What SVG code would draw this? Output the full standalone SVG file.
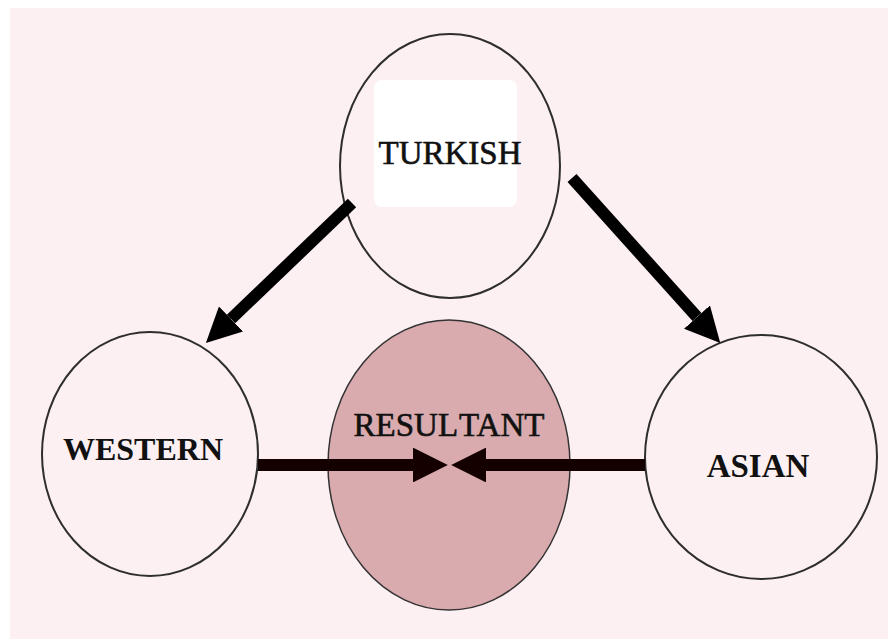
<svg xmlns="http://www.w3.org/2000/svg" width="888" height="639" viewBox="0 0 888 639">
<style>
.node{fill:none;stroke:#2e2e2e;stroke-width:2}
.lbl{font-family:"Liberation Serif","Times New Roman",serif;fill:#111;text-anchor:middle}
.n{stroke:#111;stroke-width:0.6}
.b{font-weight:bold}
.conn{stroke:#000;stroke-width:12;fill:none}
.hconn{stroke:#150000;stroke-width:12;fill:none}
</style>
<defs>
<marker id="ah" viewBox="0 0 10 10" refX="0" refY="5" markerWidth="2.9" markerHeight="2.9" orient="auto" markerUnits="strokeWidth">
<path d="M0,0 L10,5 L0,10 z" fill="#000"/>
</marker>
<marker id="ahh" viewBox="0 0 10 10" refX="0" refY="5" markerWidth="2.9" markerHeight="2.9" orient="auto" markerUnits="strokeWidth">
<path d="M0,0 L10,5 L0,10 z" fill="#150000"/>
</marker>
</defs>
<rect x="0" y="0" width="888" height="639" fill="#ffffff"/>
<rect x="10" y="8" width="878" height="631" fill="#fdf0f3"/>
<g id="turkish">
<ellipse cx="450" cy="166" rx="110" ry="132" fill="#fdf0f3" class="node"/>
<rect x="374" y="80" width="143" height="127" rx="8" fill="#ffffff"/>
<text class="lbl n" x="450" y="164" font-size="33">TURKISH</text>
</g>
<g id="western">
<ellipse cx="150" cy="454" rx="108" ry="122" fill="#fdf2f5" class="node"/>
<text class="lbl b" x="143" y="460" font-size="32">WESTERN</text>
</g>
<g id="resultant">
<ellipse cx="449" cy="465" rx="121" ry="145" fill="#d9abae" stroke="#333" stroke-width="1.5"/>
<text class="lbl n" x="449" y="436" font-size="33">RESUL<tspan dx="4">TANT</tspan></text>
</g>
<g id="asian">
<ellipse cx="761" cy="457" rx="116" ry="122" fill="#fdf2f5" class="node"/>
<text class="lbl b" x="758" y="477" font-size="33">ASIAN</text>
</g>
<g id="connectors">
<line class="conn" x1="352" y1="203" x2="231" y2="319" marker-end="url(#ah)"/>
<line class="conn" x1="572" y1="178" x2="697" y2="317" marker-end="url(#ah)"/>
<line class="hconn" x1="258" y1="465" x2="413" y2="465" marker-end="url(#ahh)"/>
<line class="hconn" x1="645" y1="465" x2="486" y2="465" marker-end="url(#ahh)"/>
</g>
</svg>
